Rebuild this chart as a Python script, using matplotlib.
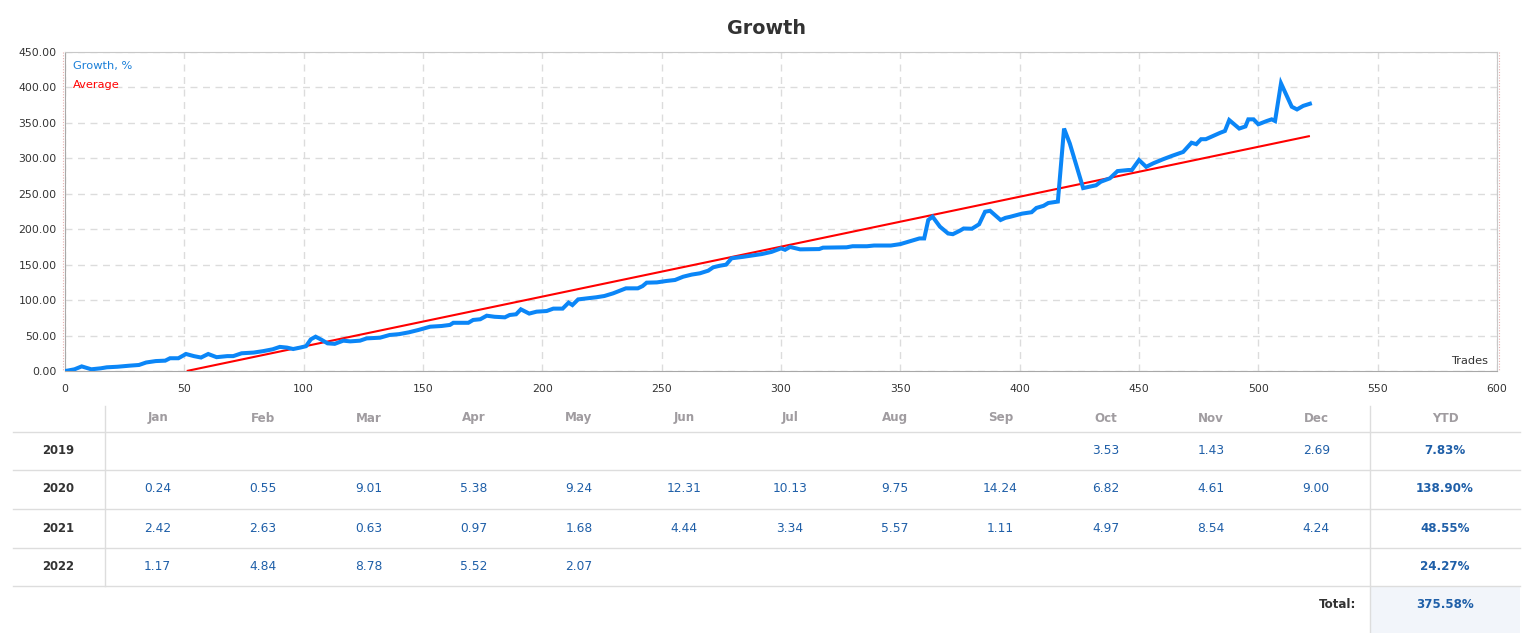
import matplotlib
matplotlib.use("Agg")
import matplotlib.pyplot as plt
from matplotlib.lines import Line2D
from matplotlib.patches import Rectangle
from matplotlib.ticker import FormatStrFormatter, MultipleLocator

# ---------------- data ----------------
trades = [0, 1, 4, 7, 11, 15, 17.5, 22, 27, 31, 34, 38, 42, 44, 47.5, 50.7, 54, 57, 60, 63.5,
          68, 70.5, 74, 79, 83, 87, 90, 93, 95.6, 98.5, 101, 103, 105, 107.5, 110, 113, 116.6,
          119.5, 123.6, 126.4, 132, 136, 140, 144, 148, 153, 157.8, 161.3, 162.7, 169, 171,
          174, 176.7, 180, 184.3, 186.3, 189, 191, 194.5, 197.6, 201.8, 204.6, 208.5, 211,
          212.6, 215, 219, 222.6, 226, 229.7, 235, 240, 242, 243.7, 248, 252, 255.6, 259,
          262.6, 266, 269.5, 271.6, 274.4, 277, 279.3, 284, 292, 296, 300, 301.7, 303.8, 308,
          316, 317.6, 327.5, 330, 336, 339, 346, 350, 355, 358, 360, 361.7, 363.5, 366.6, 370,
          372, 375, 376.5, 380, 383, 385.5, 387.6, 392, 394, 396, 401, 405, 407, 410, 412, 416,
          418.6, 421, 426.6, 432, 434, 437.8, 441, 445.5, 447, 450, 453, 456, 460, 464, 468.5,
          472, 474, 476, 478, 484, 486, 487.8, 492, 494.6, 495.8, 498, 500, 503.5, 505.6, 507,
          509.5, 514, 516.2, 518.8, 521.6]
growth = [0, 0.5, 2.4, 6.5, 2.4, 3.8, 5.2, 6, 7.5, 8.5, 12, 14, 14.6, 18, 18, 24, 21, 19, 24, 19.5,
          21, 21, 25, 26, 28, 30.6, 34, 33, 31, 33, 35, 44.7, 48.4, 44, 39, 38.3, 42.8,
          41.8, 42.8, 46, 47, 50.8, 52, 54.5, 57.8, 62.5, 63.5, 65, 68, 68, 72,
          73, 78, 76.5, 75.7, 79, 80, 87, 81, 83.7, 84.6, 88, 88, 96.4,
          93, 101, 102.5, 104, 105.8, 109.6, 116.6, 116.6, 119.8, 124.6, 125, 127, 128.4, 133,
          136, 137.8, 141.5, 146.3, 148.5, 150, 159, 161, 165, 168, 173, 171, 175, 171.6,
          172, 174, 174.5, 176, 176, 177, 177, 179, 184, 187, 187, 213, 217.7, 203.6, 194,
          193, 198, 201, 200.7, 207, 224.7, 226, 213, 216, 217.5, 222, 224, 230, 233, 237, 239,
          342, 321, 258, 262, 267, 271.8, 282, 283.5, 283.5, 297.6, 288, 293, 298.6, 303.7, 309,
          322, 320, 327, 327, 336, 338.6, 354, 342, 345, 355, 355, 348, 352.6, 355, 352.6,
          405.8, 372.8, 369, 374, 377]
average_x = [51, 521.6]
average_y = [0, 331.5]

months = ["Jan", "Feb", "Mar", "Apr", "May", "Jun", "Jul", "Aug", "Sep", "Oct", "Nov", "Dec"]
years = ["2019", "2020", "2021", "2022"]
monthly = [
    [None, None, None, None, None, None, None, None, None, 3.53, 1.43, 2.69],
    [0.24, 0.55, 9.01, 5.38, 9.24, 12.31, 10.13, 9.75, 14.24, 6.82, 4.61, 9.00],
    [2.42, 2.63, 0.63, 0.97, 1.68, 4.44, 3.34, 5.57, 1.11, 4.97, 8.54, 4.24],
    [1.17, 4.84, 8.78, 5.52, 2.07, None, None, None, None, None, None, None],
]
ytd = [7.83, 138.90, 48.55, 24.27]
total = 375.58

# ---------------- figure ----------------
W, H = 1526, 633
fig = plt.figure(figsize=(W / 100, H / 100), dpi=100)
fig.patch.set_facecolor("white")

def fx(x):
    return x / W

def fy(y):
    return 1 - y / H

BLUE = "#0b86f7"
RED = "#ff0000"
DARK = "#333333"
VAL = "#1f5fa8"

L, R, T, B = 65, 1497, 52, 371
ax = fig.add_axes([fx(L), fy(B), (R - L) / W, (B - T) / H])
ax.set_xlim(0, 600)
ax.set_ylim(0, 450)
ax.xaxis.set_major_locator(MultipleLocator(50))
ax.yaxis.set_major_locator(MultipleLocator(50))
ax.yaxis.set_major_formatter(FormatStrFormatter("%.2f"))
ax.grid(True, color="#dcdcdc", linestyle=(0, (5, 4)), linewidth=1)
ax.set_axisbelow(True)
ax.tick_params(length=0, labelsize=7.8, labelcolor=DARK)
ax.tick_params(axis="y", pad=6)
ax.tick_params(axis="x", pad=9)
for s in ["left", "bottom"]:
    ax.spines[s].set_color("#a8a8a8")
for s in ["top", "right"]:
    ax.spines[s].set_color("#c8c8c8")

ax.plot(average_x, average_y, color=RED, lw=1.5, zorder=3, solid_capstyle="butt")
ax.plot(trades, growth, color=BLUE, lw=2.9, zorder=4, solid_joinstyle="miter")

# pink dotted edge markers
for xp in (63, 1499):
    fig.add_artist(Line2D([fx(xp), fx(xp)], [fy(T), fy(B)], color="#e8b0b0",
                          lw=0.8, linestyle=(0, (1, 1.5))))

fig.text(fx(766), fy(28), "Growth", ha="center", va="center", fontsize=13.8,
         fontweight="bold", color=DARK)
fig.text(fx(73), fy(66), "Growth, %", ha="left", va="center", fontsize=8.2, color="#1a7fd8")
fig.text(fx(73), fy(85), "Average", ha="left", va="center", fontsize=8.2, color=RED)
fig.text(fx(1488), fy(361), "Trades", ha="right", va="center", fontsize=8.2, color=DARK)

# ---------------- table ----------------
LINE = "#dddddd"
for yp in (431.5, 470, 509, 547.5, 586):
    fig.add_artist(Line2D([fx(13), fx(1520)], [fy(yp), fy(yp)], color=LINE, lw=1))
fig.add_artist(Line2D([fx(105), fx(105)], [fy(406), fy(586)], color=LINE, lw=1))
fig.add_artist(Line2D([fx(1369.5), fx(1369.5)], [fy(406), fy(633)], color=LINE, lw=1))
fig.add_artist(Rectangle((fx(1370), fy(633)), (1520 - 1370) / W, (633 - 587) / H,
                         transform=fig.transFigure, facecolor="#f2f5fa", edgecolor="none",
                         zorder=0))

col_x = [105 + 105.33 * (i + 0.5) for i in range(12)]
header_y = 418
row_y = [450, 489, 528, 567]
for m, xc in zip(months, col_x):
    fig.text(fx(xc), fy(header_y), m, ha="center", va="center", fontsize=8.6,
             fontweight="bold", color="#a09ca0")
fig.text(fx(1445), fy(header_y), "YTD", ha="center", va="center", fontsize=8.6,
         fontweight="bold", color="#a09ca0")

for yr, vals, yv, yc in zip(years, monthly, ytd, row_y):
    fig.text(fx(58), fy(yc), yr, ha="center", va="center", fontsize=8.4,
             fontweight="bold", color=DARK)
    for v, xc in zip(vals, col_x):
        if v is not None:
            fig.text(fx(xc), fy(yc), f"{v:.2f}", ha="center", va="center",
                     fontsize=8.8, color=VAL)
    fig.text(fx(1445), fy(yc), f"{yv:.2f}%", ha="center", va="center", fontsize=8.6,
             fontweight="bold", color=VAL)

fig.text(fx(1356), fy(605), "Total:", ha="right", va="center", fontsize=8.6,
         fontweight="bold", color=DARK)
fig.text(fx(1445), fy(605), f"{total:.2f}%", ha="center", va="center", fontsize=8.6,
         fontweight="bold", color=VAL)

fig.savefig("out.png", dpi=100, facecolor="white")
